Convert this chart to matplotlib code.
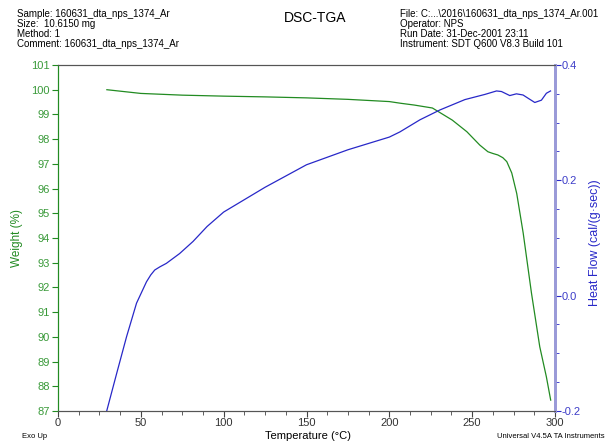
import matplotlib.pyplot as plt
from matplotlib.ticker import MultipleLocator

plt.rcParams['font.family'] = ['Liberation Sans', 'DejaVu Sans']

# weight curve (green)
temp_w = [29.5, 50, 75, 100, 125, 150, 175, 200, 207, 215, 226, 238, 246.8,
          254.6, 259.5, 262.5, 265.5, 268.5, 270.9, 273.9, 276.9, 280.8, 285.8,
          290.8, 294.8, 297.4]
weight = [100.0, 99.85, 99.78, 99.74, 99.71, 99.67, 99.61, 99.52, 99.45, 99.38,
          99.26, 98.77, 98.3, 97.76, 97.49, 97.42, 97.36, 97.25, 97.09, 96.63,
          95.8, 94.2, 91.77, 89.6, 88.38, 87.44]

# heat flow curve (blue)
temp_h = [29.4, 35.4, 41.4, 47.4, 53.4, 56, 58.4, 61.5, 65.4, 73.4, 81.5, 90,
          100, 125, 150, 175, 200, 206.4, 218.5, 230.5, 245.6, 257.7, 264.7,
          267.7, 272.7, 276.7, 280.7, 284.5, 287.8, 291.8, 294.8, 297.3]
heat = [-0.2, -0.135, -0.071, -0.013, 0.024, 0.036, 0.0445, 0.05, 0.056, 0.073,
        0.094, 0.12, 0.145, 0.188, 0.227, 0.253, 0.275, 0.284, 0.305, 0.322,
        0.340, 0.349, 0.355, 0.354, 0.347, 0.350, 0.348, 0.341, 0.335, 0.339,
        0.351, 0.355]

green = '#228B22'
green_txt = '#3a9a3a'
blue = '#2828c8'
blue_txt = '#3c3cc8'

fig = plt.figure(figsize=(6.08, 4.44), dpi=100)
ax = fig.add_axes([58 / 608, 1 - 411 / 444, (555 - 58) / 608, (411 - 65) / 444])
ax2 = ax.twinx()

ax.plot(temp_w, weight, color=green, lw=0.9)
ax2.plot(temp_h, heat, color=blue, lw=0.9)

ax.set_xlim(0, 300)
ax.set_ylim(87, 101)
ax2.set_ylim(-0.2, 0.4)

ax.xaxis.set_major_locator(MultipleLocator(50))
ax.xaxis.set_minor_locator(MultipleLocator(12.5))
ax.yaxis.set_major_locator(MultipleLocator(1))
ax2.yaxis.set_major_locator(MultipleLocator(0.2))
ax2.yaxis.set_minor_locator(MultipleLocator(0.05))
ax2.yaxis.set_major_formatter(plt.FuncFormatter(lambda v, p: '%.1f' % v))

for a in (ax, ax2):
    a.spines['top'].set_color('#555555')
    a.spines['bottom'].set_color('#555555')
    a.spines['left'].set_color(green)
    a.spines['right'].set_color('#9a9ad8')
    a.spines['right'].set_linewidth(2)

ax.tick_params(axis='x', which='both', direction='out', colors='#444444',
               labelcolor='#333333', labelsize=8, length=4, pad=1)
ax.tick_params(axis='x', which='minor', length=3)
ax.tick_params(axis='y', direction='out', colors=green, labelcolor=green_txt,
               labelsize=8, length=4, pad=2)
ax2.tick_params(axis='y', which='both', direction='out', colors=blue,
                labelcolor=blue_txt, labelsize=8, length=4, pad=1)
ax2.tick_params(axis='y', which='minor', length=3)

ax.set_xlabel('Temperature (°C)', fontsize=8)
ax.set_ylabel('Weight (%)', color=green, fontsize=8.5)
ax2.set_ylabel('Heat Flow (cal/(g·sec))', color=blue, fontsize=9)
ax.xaxis.set_label_coords((308 - 58) / 497, -(436 - 411) / 346)
ax.yaxis.set_label_coords((17 - 58) / 497, (411 - 238) / 346)
ax2.yaxis.set_label_coords((595 - 58) / 497, (411 - 243) / 346)
ax.xaxis.label.set_va('center')
ax.yaxis.label.set_va('center')
ax2.yaxis.label.set_va('center')

fig.text(315 / 608, 1 - 18 / 444, 'DSC-TGA', ha='center', va='center', fontsize=10)
fig.text(17 / 608, 1 - 9 / 444,
         'Sample: 160631_dta_nps_1374_Ar\nSize:  10.6150 mg\nMethod: 1\n'
         'Comment: 160631_dta_nps_1374_Ar',
         ha='left', va='top', fontsize=7, linespacing=1.0)
fig.text(400 / 608, 1 - 9 / 444,
         'File: C:...\\2016\\160631_dta_nps_1374_Ar.001\nOperator: NPS\n'
         'Run Date: 31-Dec-2001 23:11\nInstrument: SDT Q600 V8.3 Build 101',
         ha='left', va='top', fontsize=7, linespacing=1.0)
fig.text(22 / 608, 1 - 436 / 444, 'Exo Up', ha='left', va='center', fontsize=5.5)
fig.text(605 / 608, 1 - 436 / 444, 'Universal V4.5A TA Instruments',
         ha='right', va='center', fontsize=5.5)

fig.savefig('out.png', dpi=100)
